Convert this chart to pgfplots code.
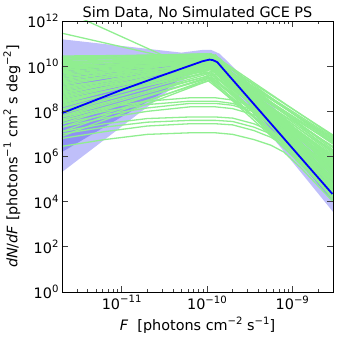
\documentclass[border=0pt]{standalone}
\usepackage{fontspec}
\setmainfont{DejaVu Sans}
\usepackage{pgfplots}
\pgfplotsset{compat=1.18}
\definecolor{band95}{RGB}{191,191,250}
\definecolor{band68}{RGB}{143,143,245}
\definecolor{samp}{RGB}{144,238,144}
\newcommand{\supr}[1]{\raisebox{0.45em}{\fontsize{10.1}{10}\selectfont #1}}

\begin{document}
\begin{tikzpicture}
\begin{axis}[
  xmode=log, ymode=log,
  scale only axis, width=271pt, height=271pt,
  xmin=2e-12, xmax=3e-9, ymin=1, ymax=1e12,
  font=\fontsize{14.4}{17}\selectfont,
  xtick={1e-11,1e-10,1e-9},
  xticklabels={10\supr{−11},10\supr{−10},10\supr{−9}},
  minor xtick={2e-12,3e-12,4e-12,5e-12,6e-12,7e-12,8e-12,9e-12,
               2e-11,3e-11,4e-11,5e-11,6e-11,7e-11,8e-11,9e-11,
               2e-10,3e-10,4e-10,5e-10,6e-10,7e-10,8e-10,9e-10,2e-9,3e-9},
  ytick={1,1e2,1e4,1e6,1e8,1e10,1e12},
  yticklabels={10\supr{0},10\supr{2},10\supr{4},10\supr{6},10\supr{8},10\supr{10},10\supr{12}},
  yminorticks=false,
  tick align=inside,
  major tick length=6pt, minor tick length=3pt,
  every tick/.style={black!75, line width=0.8pt},
  axis line style={line width=0.8pt},
  axis on top,
  every axis title shift=0pt,
  title style={yshift=-2pt},
  title={Sim Data, No Simulated GCE PS},
  xlabel={\textit{F}\ \ [photons cm\supr{−2} s\supr{−1}]},
  ylabel={\textit{dN}/\textit{dF} [photons\supr{−1} cm\supr{2} s deg\supr{−2}]},
  samp line/.style={samp, line width=1.3pt, forget plot},
]
% posterior bands: 95% and 68%
\addplot[draw=none, fill=band95, forget plot] coordinates {
  (2e-12,1.55e11) (5.01e-11,3.98e10) (8.91e-11,5.25e10) (1.12e-10,5.25e10)
  (1.41e-10,3.55e10) (3e-9,4e5) (3e-9,3.55e3) (1.26e-10,8.9e9)
  (1e-10,8.9e9) (7.94e-11,7.08e9) (3.63e-11,8.7e8) (2e-12,2.04e5)} -- cycle;
\addplot[draw=none, fill=band68, forget plot] coordinates {
  (2e-12,8.9e9) (5.01e-11,2.24e10) (1e-10,3.55e10) (1.2e-10,3.3e10)
  (1.41e-10,2.24e10) (3e-9,7.9e4) (3e-9,1e4) (1.26e-10,1.12e10)
  (1e-10,1.26e10) (6.31e-11,6.3e9) (2.95e-11,6.3e8) (2e-12,1.58e6)} -- cycle;

% broken power-law samples
\addplot[samp line] coordinates {(2e-12,2.51e10) (1e-10,3.55e10) (3e-9,8.91e6)};
\addplot[samp line] coordinates {(2e-12,2.24e10) (1.12e-10,3.16e10) (3e-9,1.58e5)};
\addplot[samp line] coordinates {(2e-12,2.0e10) (1.26e-10,2.82e10) (3e-9,3.98e4)};
\addplot[samp line] coordinates {(2e-12,1.78e10) (8.9e-11,3.16e10) (3e-9,2.51e6)};
\addplot[samp line] coordinates {(2e-12,1.58e10) (1.12e-10,2.51e10) (3e-9,6.31e5)};
\addplot[samp line] coordinates {(2e-12,1.41e10) (1.26e-10,2.24e10) (3e-9,1.58e4)};
\addplot[samp line] coordinates {(2e-12,1.26e10) (1e-10,2.82e10) (3e-9,5.01e6)};
\addplot[samp line] coordinates {(2e-12,1.12e10) (1.12e-10,2.0e10) (3e-9,1e5)};
\addplot[samp line] coordinates {(2e-12,1e10) (8.9e-11,2.51e10) (3e-9,1.26e6)};
\addplot[samp line] coordinates {(2e-12,8.91e9) (1.26e-10,1.78e10) (3e-9,2.51e4)};
\addplot[samp line] coordinates {(2e-12,7.94e9) (1e-10,2.24e10) (3e-9,3.16e5)};
\addplot[samp line] coordinates {(2e-12,7.08e9) (1.12e-10,1.58e10) (3e-9,3.55e6)};
\addplot[samp line] coordinates {(2e-12,5.62e9) (1.41e-10,2.0e10) (3e-9,6.31e4)};
\addplot[samp line] coordinates {(2e-12,4.47e9) (1e-10,1.41e10) (3e-9,7.94e5)};
\addplot[samp line] coordinates {(2e-12,3.55e9) (1.12e-10,2.51e10) (3e-9,2.0e6)};
\addplot[samp line] coordinates {(2e-12,2.82e9) (1.26e-10,1.26e10) (3e-9,3.16e4)};
\addplot[samp line] coordinates {(2e-12,2.24e9) (8.9e-11,1.78e10) (3e-9,2.0e5)};
\addplot[samp line] coordinates {(2e-12,1.78e9) (1.12e-10,1.12e10) (3e-9,1e6)};
\addplot[samp line] coordinates {(2e-12,1.41e9) (1.26e-10,2.0e10) (3e-9,1.26e4)};
\addplot[samp line] coordinates {(2e-12,1.12e9) (1e-10,1e10) (3e-9,3.98e5)};
\addplot[samp line] coordinates {(2e-12,8.91e8) (1.12e-10,1.58e10) (3e-9,6.31e6)};
\addplot[samp line] coordinates {(2e-12,7.08e8) (1.41e-10,8.91e9) (3e-9,5.01e4)};
\addplot[samp line] coordinates {(2e-12,5.62e8) (1e-10,1.41e10) (3e-9,2.51e5)};
\addplot[samp line] coordinates {(2e-12,4.47e8) (1.12e-10,7.94e9) (3e-9,1.58e6)};
\addplot[samp line] coordinates {(2e-12,3.55e8) (1.26e-10,1.26e10) (3e-9,2.0e4)};
\addplot[samp line] coordinates {(2e-12,2.82e8) (8.9e-11,7.08e9) (3e-9,1.26e5)};
\addplot[samp line] coordinates {(2e-12,2.51e8) (1.12e-10,1e10) (3e-9,5.01e5)};
\addplot[samp line] coordinates {(2e-12,2.0e8) (1.26e-10,6.31e9) (3e-9,7.94e4)};
\addplot[samp line] coordinates {(2e-12,1.58e8) (1e-10,8.91e9) (3e-9,2.82e6)};
\addplot[samp line] coordinates {(2e-12,1.12e8) (1.12e-10,5.62e9) (3e-9,3.16e4)};
\addplot[samp line] coordinates {(2e-12,7.94e7) (1.26e-10,4.47e9) (3e-9,1.78e5)};
\addplot[samp line] coordinates {(2e-12,5.62e7) (1e-10,3.55e9) (3e-9,6.31e4)};
\addplot[samp line] coordinates {(2e-12,3.55e7) (1.12e-10,3.16e9) (3e-9,3.16e5)};
\addplot[samp line] coordinates {(2e-12,2.0e7) (1.26e-10,2.82e9) (3e-9,1.58e4)};
\addplot[samp line] coordinates {(2e-12,1.26e7) (1e-10,2.51e9) (3e-9,1e5)};
\addplot[samp line] coordinates {(2e-12,7.94e6) (1.12e-10,2.51e9) (3e-9,3.98e4)};
\addplot[samp line] coordinates {(2e-12,3.16e12) (1e-10,3.98e9) (3e-9,1.58e5)};
\addplot[samp line] coordinates {(2e-12,2.88e11) (1e-10,1e10) (3e-9,7.94e5)};
\addplot[samp line] coordinates {(2e-12,2.40e10) (1.26e-10,2.51e10) (3e-9,3.98e6)};
\addplot[samp line] coordinates {(2e-12,1.91e10) (1e-10,3.55e10) (3e-9,2.82e5)};
\addplot[samp line] coordinates {(2e-12,1.51e10) (1.12e-10,2.0e10) (3e-9,7.08e6)};
\addplot[samp line] coordinates {(2e-12,1.20e10) (1.26e-10,3.16e10) (3e-9,8.91e4)};
\addplot[samp line] coordinates {(2e-12,9.55e9) (1e-10,1.58e10) (3e-9,1.78e6)};
\addplot[samp line] coordinates {(2e-12,7.59e9) (1.12e-10,2.82e10) (3e-9,2.24e4)};
\addplot[samp line] coordinates {(2e-12,6.31e9) (8.9e-11,2.24e10) (3e-9,4.47e6)};
\addplot[samp line] coordinates {(2e-12,5.01e9) (1.26e-10,1.78e10) (3e-9,1.41e5)};
\addplot[samp line] coordinates {(2e-12,3.98e9) (1.12e-10,1.12e10) (3e-9,8.91e5)};
\addplot[samp line] coordinates {(2e-12,3.16e9) (1e-10,2.0e10) (3e-9,4.47e4)};
\addplot[samp line] coordinates {(2e-12,2.51e9) (1.26e-10,2.82e10) (3e-9,1.41e6)};
\addplot[samp line] coordinates {(2e-12,2.0e9) (1.12e-10,1.41e10) (3e-9,2.24e5)};
\addplot[samp line] coordinates {(2e-12,1.58e9) (8.9e-11,2.24e10) (3e-9,1.78e4)};
\addplot[samp line] coordinates {(2e-12,1.26e9) (1.26e-10,1e10) (3e-9,2.51e6)};
\addplot[samp line] coordinates {(2e-12,1e9) (1e-10,1.78e10) (3e-9,1.12e5)};
\addplot[samp line] coordinates {(2e-12,7.94e8) (1.12e-10,1.26e10) (3e-9,5.62e5)};
\addplot[samp line] coordinates {(2e-12,6.31e8) (1.41e-10,2.24e10) (3e-9,2.82e4)};
\addplot[samp line] coordinates {(2e-12,5.01e8) (1e-10,8.91e9) (3e-9,1.12e6)};
\addplot[samp line] coordinates {(2e-12,3.98e8) (1.12e-10,1.58e10) (3e-9,3.55e5)};
\addplot[samp line] coordinates {(2e-12,3.16e8) (1.26e-10,7.94e9) (3e-9,5.62e4)};
\addplot[samp line] coordinates {(2e-12,2.24e8) (1e-10,1.12e10) (3e-9,3.98e6)};
\addplot[samp line] coordinates {(2e-12,1.78e8) (1.12e-10,7.08e9) (3e-9,2.24e5)};
\addplot[samp line] coordinates {(2e-12,1.26e8) (1.26e-10,1e10) (3e-9,2.24e4)};
\addplot[samp line] coordinates {(2e-12,8.91e7) (1e-10,5.62e9) (3e-9,7.08e5)};
\addplot[samp line] coordinates {(2e-12,6.31e7) (1.12e-10,5.01e9) (3e-9,8.91e4)};
\addplot[samp line] coordinates {(2e-12,4.47e7) (1.26e-10,3.55e9) (3e-9,4.47e5)};
\addplot[samp line] coordinates {(2e-12,2.82e7) (1e-10,3.16e9) (3e-9,2.51e4)};
\addplot[samp line] coordinates {(2e-12,2.82e10) (8.9e-11,3.16e10) (3e-9,4.47e5)};
\addplot[samp line] coordinates {(2e-12,1.32e10) (1.12e-10,3.55e10) (3e-9,7.94e6)};
\addplot[samp line] coordinates {(2e-12,8.32e9) (1.26e-10,1.41e10) (3e-9,5.62e6)};

% curved low-normalisation samples
\addplot[samp line] coordinates {(2e-12,2.82e6) (6.31e-12,5.62e6) (2e-11,9.55e6) (6.31e-11,1.12e7) (1.26e-10,1.12e7) (2e-10,9.55e6) (3.55e-10,5.62e6) (5.62e-10,3.16e6) (7.94e-10,1.58e6) (1.26e-9,3.16e5) (3e-9,1e4)};
\addplot[samp line] coordinates {(2e-12,6.31e6) (6.31e-12,1.26e7) (2e-11,2.24e7) (6.31e-11,2.82e7) (1.26e-10,2.82e7) (2e-10,2.51e7) (3.55e-10,1.41e7) (5.62e-10,7.08e6) (7.94e-10,3.16e6) (1.26e-9,6.31e5) (3e-9,2.0e4)};
\addplot[samp line] coordinates {(2e-12,1e7) (6.31e-12,2e7) (2e-11,3.31e7) (6.31e-11,3.98e7) (1.26e-10,3.98e7) (2e-10,3.55e7) (3.55e-10,2e7) (5.62e-10,1e7) (7.94e-10,4.47e6) (1.26e-9,8.91e5) (3e-9,2.82e4)};
\addplot[samp line] coordinates {(2e-12,1.26e7) (6.31e-12,2.82e7) (2e-11,4.79e7) (6.31e-11,5.62e7) (1.26e-10,5.62e7) (2e-10,5.01e7) (3.55e-10,2.82e7) (5.62e-10,1.32e7) (7.94e-10,5.62e6) (1.26e-9,1e6) (3e-9,3.16e4)};
\addplot[samp line] coordinates {(2e-12,2e7) (6.31e-12,5.01e7) (2e-11,1e8) (6.31e-11,1.58e8) (1.26e-10,1.58e8) (2e-10,1.32e8) (3.55e-10,7.08e7) (5.62e-10,2.82e7) (7.94e-10,1e7) (1.26e-9,1.58e6) (3e-9,3.98e4)};
\addplot[samp line] coordinates {(2e-12,2.82e7) (6.31e-12,7.08e7) (2e-11,1.41e8) (6.31e-11,2.24e8) (1.26e-10,2.24e8) (2e-10,1.86e8) (3.55e-10,9.55e7) (5.62e-10,3.55e7) (7.94e-10,1.12e7) (1.26e-9,1.78e6) (3e-9,4.47e4)};
\addplot[samp line] coordinates {(2e-12,3.98e7) (6.31e-12,1e8) (2e-11,2e8) (6.31e-11,2.82e8) (1.26e-10,2.82e8) (2e-10,2.24e8) (3.55e-10,1.12e8) (5.62e-10,4.47e7) (7.94e-10,1.41e7) (1.26e-9,2e6) (3e-9,5.01e4)};
\addplot[samp line] coordinates {(2e-12,5.62e7) (6.31e-12,1.41e8) (2e-11,2.82e8) (6.31e-11,3.98e8) (1.26e-10,3.98e8) (2e-10,3.16e8) (3.55e-10,1.58e8) (5.62e-10,6.31e7) (7.94e-10,1.78e7) (1.26e-9,2.51e6) (3e-9,6.31e4)};

% posterior median
\addplot[blue, line width=1.8pt] coordinates {
  (2e-12,8.3e7) (1e-11,8.9e8) (3.16e-11,4.2e9) (6.31e-11,1.05e10)
  (8.91e-11,1.66e10) (1.07e-10,1.95e10) (1.17e-10,1.86e10) (1.32e-10,1.51e10)
  (1.58e-10,6.9e9) (2.95e-9,2.2e4)};
\end{axis}
\pgfresetboundingbox
\path ([shift={(-62pt,-46pt)}]current axis.south west) rectangle ([shift={(6pt,21pt)}]current axis.north east);
\end{tikzpicture}
\end{document}
